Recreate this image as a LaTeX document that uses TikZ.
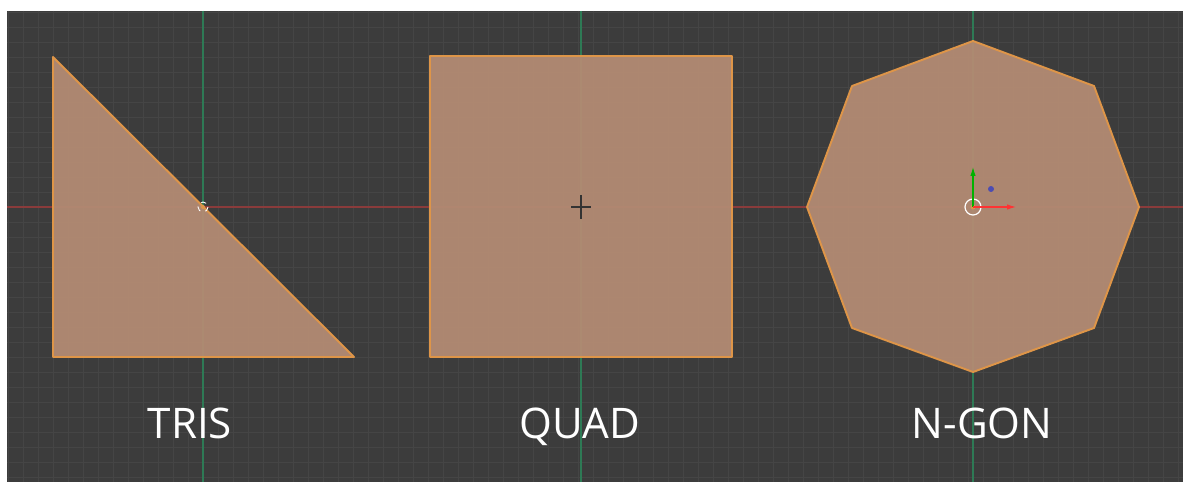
\documentclass[tikz,border=0pt]{standalone}
\usepackage{fontspec}
\setmainfont{Open Sans}
\usetikzlibrary{arrows.meta,calc}
\definecolor{viewbg}{HTML}{3C3C3C}
\definecolor{gridgray}{HTML}{454545}
\definecolor{facetan}{HTML}{B38B73}
\definecolor{edgeorange}{HTML}{DE9548}
\definecolor{axisred}{HTML}{8A3B3B}
\definecolor{axisgreen}{HTML}{2E7A55}
\begin{document}
\begin{tikzpicture}[x=0.02cm,y=-0.02cm,>=Latex,
  gridline/.style={gridgray,line width=0.5pt},
  face/.style={fill=facetan,fill opacity=0.95,draw=edgeorange,line width=1.1pt,line join=round},
  shapename/.style={text=white,font=\fontsize{24}{29}\selectfont,anchor=base}]
  \useasboundingbox (0,0) rectangle (1183,482);
  \fill[viewbg] (7,11) rectangle (1183,482);
  \foreach \x in {8,23,...,1178} \draw[gridline] (\x,11) -- (\x,482);
  \foreach \y in {12,27,...,477} \draw[gridline] (7,\y) -- (1183,\y);
  % axes
  \draw[axisred,line width=0.6pt] (7,207) -- (1183,207);
  \foreach \x in {203,581,973} \draw[axisgreen,line width=0.8pt] (\x,11) -- (\x,482);
  % faces
  \draw[face] (53,57) -- (53,357) -- (354,357) -- cycle;
  \draw[face] (430,56) rectangle (732,357);
  \draw[face] (973,41) -- (1094,86) -- (1139,207) -- (1094,328) -- (973,372)
    -- (852,328) -- (807,207) -- (852,86) -- cycle;
  % origins
  \coordinate (tricenter) at (203,207);
  \coordinate (quadcenter) at (581,207);
  \coordinate (ngoncenter) at (973,207);
  \draw[white,dashed,line width=0.5pt] (tricenter) circle (5);
  \fill[edgeorange] (tricenter) circle (2);
  \draw[black!80,line width=0.6pt] ($(quadcenter)+(0,-12)$) -- ($(quadcenter)+(0,12)$)
    ($(quadcenter)+(-10,0)$) -- ($(quadcenter)+(10,0)$);
  \draw[white,line width=0.7pt] (ngoncenter) circle (8);
  \fill[edgeorange] (ngoncenter) circle (2.5);
  \coordinate (gizup) at (973,167);
  \coordinate (gizright) at (1016,207);
  \draw[green!70!black,line width=0.6pt,-{Latex[length=5pt,width=3pt]}] (ngoncenter) -- (gizup);
  \draw[red!80!white,line width=0.6pt,-{Latex[length=5pt,width=3pt]}] (ngoncenter) -- (gizright);
  \fill[blue!40!gray] (991,189) circle (3);
  % names
  \node[shapename] (tris) at (190,439) {TRIS};
  \node[shapename] (quad) at (580,439) {QUAD};
  \node[shapename] (ngon) at (982,439) {N-GON};
\end{tikzpicture}
\end{document}
